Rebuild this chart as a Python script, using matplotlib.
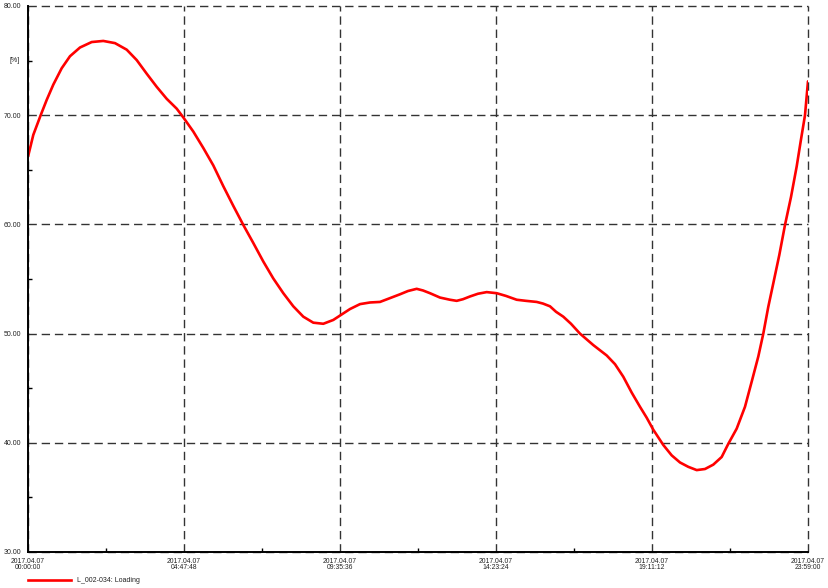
import matplotlib
matplotlib.use("Agg")
import matplotlib.pyplot as plt
from matplotlib.lines import Line2D

# Data: hours since 2017.04.07 00:00:00 and loading [%]
hours = [0.000, 0.163, 0.390, 0.575, 0.778, 1.036, 1.291, 1.599, 1.959, 2.315,
         2.675, 3.035, 3.342, 3.650, 3.957, 4.265, 4.572, 4.775, 5.083, 5.390,
         5.698, 6.005, 6.312, 6.620, 6.927, 7.235, 7.542, 7.850, 8.157, 8.465,
         8.772, 9.080, 9.387, 9.695, 9.901, 10.208, 10.516, 10.823, 11.131, 11.438,
         11.684, 11.951, 12.145, 12.360, 12.668, 12.975, 13.181, 13.375, 13.590, 13.836,
         14.104, 14.411, 14.697, 15.026, 15.312, 15.641, 15.835, 16.050, 16.235, 16.459,
         16.696, 16.972, 17.381, 17.793, 18.049, 18.304, 18.562, 18.817, 19.023, 19.226,
         19.534, 19.792, 20.047, 20.302, 20.561, 20.816, 21.071, 21.329, 21.532, 21.791,
         22.046, 22.252, 22.455, 22.609, 22.762, 22.916, 23.101, 23.276, 23.460, 23.635,
         23.758, 23.891, 23.983]
loading = [66.2, 68.2, 70.0, 71.4, 72.8, 74.3, 75.4, 76.2, 76.7, 76.8,
           76.6, 76.0, 75.05, 73.8, 72.6, 71.5, 70.6, 69.8, 68.5, 67.0,
           65.4, 63.5, 61.7, 59.95, 58.3, 56.6, 55.05, 53.7, 52.5, 51.55,
           51.0, 50.9, 51.25, 51.85, 52.25, 52.7, 52.85, 52.9, 53.25, 53.6,
           53.9, 54.1, 53.95, 53.7, 53.3, 53.1, 53.0, 53.15, 53.4, 53.65,
           53.8, 53.7, 53.45, 53.1, 53.0, 52.9, 52.75, 52.5, 52.0, 51.55,
           50.9, 50.0, 48.95, 48.0, 47.2, 46.05, 44.6, 43.3, 42.3, 41.2,
           39.8, 38.85, 38.2, 37.8, 37.5, 37.6, 38.0, 38.7, 39.9, 41.3,
           43.3, 45.6, 47.9, 50.0, 52.45, 54.6, 57.2, 59.95, 62.5, 65.3,
           67.6, 70.0, 73.1]

x_ticks = [0.0, 4.7967, 9.5933, 14.39, 19.1867, 23.9833]
x_labels = ["2017.04.07\n00:00:00", "2017.04.07\n04:47:48", "2017.04.07\n09:35:36",
            "2017.04.07\n14:23:24", "2017.04.07\n19:11:12", "2017.04.07\n23:59:00"]
y_ticks = [30, 40, 50, 60, 70, 80]
y_labels = ["30.00", "40.00", "50.00", "60.00", "70.00", "80.00"]
y_minor = [35, 45, 55, 65, 75]
unit_label = "[%]"
series_name = "L_002-034: Loading"

plt.rcParams['font.family'] = ['Liberation Sans', 'DejaVu Sans']

fig = plt.figure(figsize=(8.29, 5.88), dpi=100)
ax = fig.add_axes([28/829, 1-552/588, 780/829, 546/588])

ax.plot(hours, loading, color='#ff0000', lw=1.9, solid_joinstyle='round',
        solid_capstyle='round', zorder=3)

ax.set_xlim(x_ticks[0], x_ticks[-1])
ax.set_ylim(30, 80)

ax.set_xticks(x_ticks)
ax.set_xticklabels(x_labels, fontsize=4.9, linespacing=0.95, color='#222222')
ax.set_yticks(y_ticks)
ax.set_yticklabels(y_labels, fontsize=5.0, color='#222222')
ax.set_xticks([(a + b) / 2 for a, b in zip(x_ticks[:-1], x_ticks[1:])], minor=True)
ax.set_yticks(y_minor, minor=True)

ax.tick_params(axis='y', which='major', length=0, pad=5)
ax.tick_params(axis='x', which='major', length=0, pad=4)
ax.tick_params(axis='both', which='minor', direction='in', length=3, width=1, color='black')

ax.grid(True, which='major', linestyle=(0, (6, 3.5)), color='#333333', lw=1.0)
for gl in ax.get_xgridlines() + ax.get_ygridlines():
    gl.set_clip_on(False)
for s in ['top', 'right']:
    ax.spines[s].set_visible(False)
for s in ['left', 'bottom']:
    ax.spines[s].set_linewidth(1.4)
    ax.spines[s].set_color('black')
    ax.spines[s].set_zorder(4)

ax.text(-0.017, 0.9, unit_label, transform=ax.transAxes, fontsize=5.0,
        ha='center', va='center', color='#222222')

# legend
fig.add_artist(Line2D([28/829, 71/829], [1-580/588, 1-580/588], color='#ff0000', lw=1.9,
                      transform=fig.transFigure))
fig.text(77/829, 1-580/588, series_name, fontsize=5.0, ha='left', va='center',
         color='#222222')

fig.savefig("out.png", dpi=100)
